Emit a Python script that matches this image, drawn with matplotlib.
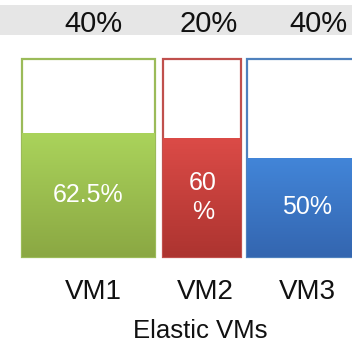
import numpy as np
import matplotlib
matplotlib.use("Agg")
import matplotlib.pyplot as plt
from matplotlib.colors import LinearSegmentedColormap
from matplotlib.patches import Rectangle

plt.rcParams['font.family'] = ['Liberation Sans', 'DejaVu Sans']

# data
vms = ['VM1', 'VM2', 'VM3']
share = [40, 20, 40]          # free share shown on top
used = [62.5, 60, 50]         # filled part of each VM
xlabel = 'Elastic VMs'

# layout (pixel-like x units) and styles
lefts = [22, 163, 247]
widths = [133, 78, 133]
top_x = [93, 209, 318]
name_x = [93, 205, 307]
inner_x = [88, 203, 307]
edge_colors = ['#9BBB59', '#C0504D', '#4F81BD']
grad_top = ['#AAD35B', '#DB4B47', '#4285D8']
grad_bot = ['#8BA843', '#AD3430', '#3466B0']

W, H = 352, 344
fig = plt.figure(figsize=(W / 100, H / 100), dpi=100)
fig.patch.set_facecolor('white')
# axes spans bar area: 0% at y=257px, 100% at y=59px
ax = fig.add_axes([0, (H - 257) / H, 1, 198 / H])
ax.set_axis_off()

# gray band behind top labels
ax.add_patch(Rectangle((0, 112), W, 15.5, facecolor='#E6E6E6', edgecolor='none',
                       clip_on=False, zorder=0))

for i, vm in enumerate(vms):
    x0, w = lefts[i], widths[i]
    # outline of the full VM
    ax.add_patch(Rectangle((x0, 0), w, 100, facecolor='white', edgecolor=edge_colors[i],
                           linewidth=1.6, zorder=1, clip_on=False))
    # filled part with vertical gradient
    fill = Rectangle((x0, 0), w, used[i], facecolor='none', edgecolor='none', zorder=2,
                     clip_on=False)
    ax.add_patch(fill)
    cmap = LinearSegmentedColormap.from_list('g%d' % i, [grad_bot[i], grad_top[i]])
    grad = np.linspace(0, 1, 64).reshape(-1, 1)
    im = ax.imshow(grad, extent=[x0, x0 + w, 0, used[i]], origin='lower', cmap=cmap,
                   aspect='auto', interpolation='bicubic', zorder=2)
    im.set_clip_path(fill)

    label = f'{used[i]:g}%'
    if w < 100:
        label = label.replace('%', '\n%')
    ax.text(inner_x[i], used[i] / 2, label, ha='center', va='center', color='white',
            fontsize=18, zorder=3, linespacing=1.3)
    ax.text(top_x[i], 117.7, f'{share[i]}%', ha='center', va='center', color='#111111',
            fontsize=21, clip_on=False)
    ax.text(name_x[i], -17.7, vm, ha='center', va='center', color='#111111',
            fontsize=20, clip_on=False)

ax.text(200, -37.5, xlabel, ha='center', va='center', color='#111111', fontsize=18.5,
        clip_on=False)

ax.set_xlim(0, W)
ax.set_ylim(0, 100)

fig.savefig('out.png', dpi=100)
